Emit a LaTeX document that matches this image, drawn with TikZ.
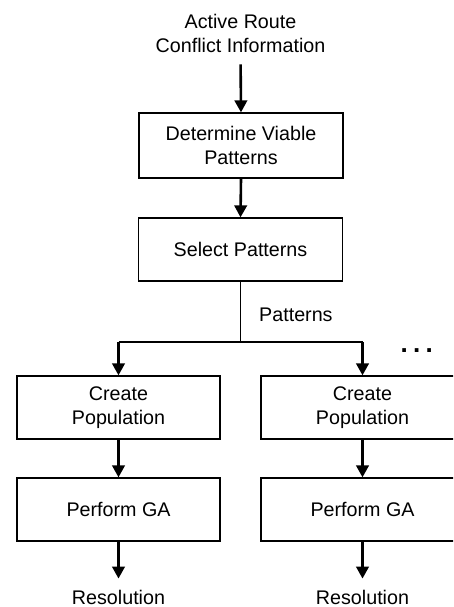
\documentclass[tikz,border=0pt]{standalone}
\usepackage{fontspec}
\setmainfont{Liberation Sans}
\usetikzlibrary{arrows.meta}
\begin{document}
\begin{tikzpicture}[x=1pt,y=-1pt,
  every node/.style={font=\fontsize{19.7}{24}\selectfont, align=center},
  procbox/.style={draw, line width=1.3pt, minimum width=203pt, minimum height=63pt, inner sep=0pt},
  arr/.style={line width=2.6pt, -{Triangle[length=12pt,width=12.5pt]}},
  thin/.style={line width=1.3pt}]
\useasboundingbox (0,0) rectangle (453,607);
\clip (0,0) rectangle (453,607);
\node[inner sep=0pt] (in) at (240.5,33) {Active Route\\Conflict Information};
\node[procbox, minimum width=204pt, minimum height=65pt] (b1) at (241,145.5) {Determine Viable\\Patterns};
\node[procbox, minimum width=204pt] (b2) at (240.5,249.5) {Select Patterns};
\coordinate (j) at (240.5,342);
\coordinate (jl) at (118.5,342);
\coordinate (jr) at (362.5,342);
\node[procbox] (cp1) at (118.5,407.5) {Create\\Population};
\node[procbox] (cp2) at (362.5,407.5) {Create\\Population};
\node[procbox] (ga1) at (118.5,509.5) {Perform GA};
\node[procbox] (ga2) at (362.5,509.5) {Perform GA};
\node[inner sep=0pt] (r1) at (118.5,597) {Resolution};
\node[inner sep=0pt] (r2) at (362.5,597) {Resolution};
\node[inner sep=0pt, anchor=west] (pl) at (259,315) {Patterns};
\node[inner sep=0pt, font=\fontsize{26}{26}\bfseries] (dots) at (416.7,351) {.\kern5.3pt.\kern5.3pt.};
\draw[arr, shorten <=12pt] (in.south) -- (b1.north);
\draw[arr] (b1.south) -- (b2.north);
\draw[thin] (b2.south) -- (j);
\draw[thin] (jl) -- (jr);
\draw[arr] (jl) -- (cp1.north);
\draw[arr] (jr) -- (cp2.north);
\draw[arr] (cp1.south) -- (ga1.north);
\draw[arr] (cp2.south) -- (ga2.north);
\draw[arr, shorten >=11pt] (ga1.south) -- (r1.north);
\draw[arr, shorten >=11pt] (ga2.south) -- (r2.north);
\end{tikzpicture}
\end{document}
